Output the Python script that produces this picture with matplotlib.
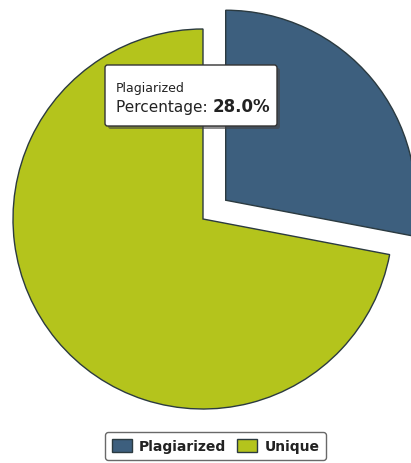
import matplotlib
matplotlib.use("Agg")
import matplotlib.pyplot as plt
from matplotlib.patches import FancyBboxPatch

labels = ["Plagiarized", "Unique"]
values = [28.0, 72.0]
colors = ["#3d5f7e", "#b4c41c"]
explode = [0.155, 0.0]

W, H = 411, 464
fig = plt.figure(figsize=(W / 100, H / 100), dpi=100)
fig.patch.set_facecolor("white")
ax = fig.add_axes([0, 0, 1, 1])
R = 190.0
cx, cy = 203.0, 220.0

wedges, _ = ax.pie(values, colors=colors, explode=explode, startangle=90,
                   counterclock=False, radius=1.0,
                   wedgeprops=dict(edgecolor="#2b3a40", linewidth=1.0))
ax.set_aspect("auto")
ax.set_xlim(-cx / R, (W - cx) / R)
ax.set_ylim(-(H - cy) / R, cy / R)
ax.axis("off")

# tooltip
def px(x, y):
    return x / W, 1 - y / H

sx, sy = px(108, 130)
shadow = FancyBboxPatch((sx, sy), (279 - 107) / W, (130 - 69) / H,
                        boxstyle="round,pad=0,rounding_size=0.006",
                        transform=fig.transFigure, facecolor="#444444",
                        edgecolor="none", alpha=0.6, zorder=5)
fig.patches.append(shadow)
bx, by = px(105, 127)
box = FancyBboxPatch((bx, by), (277 - 105) / W, (127 - 66) / H,
                     boxstyle="round,pad=0,rounding_size=0.006",
                     transform=fig.transFigure, facecolor="white",
                     edgecolor="#333333", linewidth=1.0, zorder=6)
fig.patches.append(box)
fig.text(*px(116, 92), "Plagiarized", fontsize=9, color="#222222",
         va="baseline", ha="left", zorder=7)
t = fig.text(*px(116, 112), "Percentage: ", fontsize=11, color="#222222",
             va="baseline", ha="left", zorder=7)
fig.canvas.draw()
bb = t.get_window_extent()
fig.text(bb.x1 / W, 1 - 112 / H, "28.0%", fontsize=12, fontweight="bold",
         color="#222222", va="baseline", ha="left", zorder=7)

# legend
leg = fig.legend(wedges, labels, loc="center", bbox_to_anchor=(215.5 / W, 1 - 447 / H),
                 ncol=2, frameon=True, fontsize=10, handlelength=1.45,
                 handleheight=1.15, columnspacing=0.8, handletextpad=0.5,
                 borderpad=0.45, fancybox=True)
leg.get_frame().set_edgecolor("#444444")
leg.get_frame().set_linewidth(1.0)
for txt in leg.get_texts():
    txt.set_fontweight("semibold")
    txt.set_color("#222222")

fig.savefig("out.png", dpi=100)
